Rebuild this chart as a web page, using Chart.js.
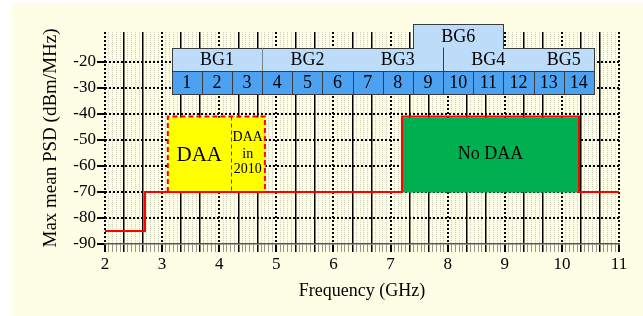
<!DOCTYPE html>
<html>
<head>
<meta charset="utf-8">
<script src="https://cdn.jsdelivr.net/npm/chart.js@4/dist/chart.umd.min.js"></script>
<style>
  html, body { margin: 0; padding: 0; background: #fff; }
  canvas { display: block; }
</style>
</head>
<body>
<canvas id="chart" width="643" height="316"></canvas>
<script>
// spectral mask (GHz, dBm/MHz)
const maskFreq = [2, 2.7, 2.7, 7.2, 7.2, 10.3, 10.3, 11];
const maskPsd = [-85, -85, -70, -70, -41, -41, -70, -70];
const yTicks = [-90, -80, -70, -60, -50, -40, -30, -20];

// UWB bands, 528 MHz wide, starting at 3.168 GHz
const bandNumbers = [1, 2, 3, 4, 5, 6, 7, 8, 9, 10, 11, 12, 13, 14];
const bandStart = 3.168;
const bandWidth = 0.528;
const groupNames = ['BG1', 'BG2', 'BG3', 'BG4', 'BG5', 'BG6'];
const groupFirstBand = [1, 4, 7, 10, 13, 9];
const groupLastBand = [3, 6, 9, 12, 14, 11];

// DAA regions (GHz) and their PSD span
const daaRange = [3.1, 4.8];
const daa2010From = 4.2;
const noDaaRange = [7.2, 10.3];
const regionPsd = [-70, -41];

const FONT = '"Liberation Serif", "Times New Roman", serif';
const lightBlue = 'rgb(189,220,250)';
const midBlue = 'rgb(76,161,240)';
const edge = '#3c3c3c';

const bandLeft = n => bandStart + (n - 1) * bandWidth;
const bandRight = n => bandStart + n * bandWidth;

const background = {
  id: 'background',
  beforeDraw(chart) {
    const { ctx, width, height } = chart;
    ctx.save();
    ctx.fillStyle = '#fff';
    ctx.fillRect(0, 0, width, height);
    ctx.fillStyle = 'rgb(254,253,230)';
    ctx.fillRect(12, 3, width - 12, height - 3);
    ctx.restore();
  }
};

const regions = {
  id: 'regions',
  beforeDatasetsDraw(chart) {
    const { ctx, scales: { x, y } } = chart;
    const px = v => x.getPixelForValue(v);
    const py = v => y.getPixelForValue(v);
    const box = (x0, x1, y0, y1, fill, stroke) => {
      const l = Math.round(px(x0)) + 0.5, r = Math.round(px(x1)) + 0.5;
      const t = Math.round(py(y1)) + 0.5, b = Math.round(py(y0)) + 0.5;
      ctx.fillStyle = fill;
      ctx.fillRect(l, t, r - l, b - t);
      if (stroke) {
        ctx.strokeStyle = stroke;
        ctx.lineWidth = 1;
        ctx.strokeRect(l, t, r - l, b - t);
      }
    };
    ctx.save();
    box(noDaaRange[0], noDaaRange[1], regionPsd[0], regionPsd[1], 'rgb(0,176,80)');
    box(daaRange[0], daaRange[1], regionPsd[0], regionPsd[1], '#ffff00');

    // band group strip + BG6 on top
    const first = bandLeft(1), last = bandRight(bandNumbers.length);
    box(first, last, -23.5, -14.5, lightBlue, edge);
    const g6 = groupNames.indexOf('BG6');
    box(bandLeft(groupFirstBand[g6]), bandRight(groupLastBand[g6]), -14.5, -5.4, lightBlue, edge);
    ctx.fillStyle = lightBlue;
    const l6 = Math.round(px(bandLeft(groupFirstBand[g6]))) + 1;
    const r6 = Math.round(px(bandRight(groupLastBand[g6])));
    ctx.fillRect(l6, Math.round(py(-14.5)) - 1, r6 - l6, 3);
    // dividers between groups in the strip
    ctx.lineWidth = 1;
    ctx.strokeStyle = 'rgb(120,130,140)';
    let xx = Math.round(px(bandRight(3))) + 0.5;
    ctx.beginPath(); ctx.moveTo(xx, py(-14.5)); ctx.lineTo(xx, py(-23.5)); ctx.stroke();
    ctx.strokeStyle = edge;
    xx = Math.round(px(bandRight(9))) + 0.5;
    ctx.beginPath(); ctx.moveTo(xx, py(-14.5)); ctx.lineTo(xx, py(-23.5)); ctx.stroke();

    // band cells
    bandNumbers.forEach(n => box(bandLeft(n), bandRight(n), -32.4, -23.5, midBlue, edge));
    ctx.restore();
  },
  afterDatasetsDraw(chart) {
    const { ctx, scales: { x, y } } = chart;
    const px = v => x.getPixelForValue(v);
    const py = v => y.getPixelForValue(v);
    ctx.save();

    // dashed red outline of the DAA box
    ctx.strokeStyle = 'rgb(255,0,0)';
    ctx.setLineDash([5, 3]);
    ctx.lineWidth = 2;
    const l = px(daaRange[0]), r = px(daaRange[1]), t = py(regionPsd[1]), b = py(regionPsd[0]);
    ctx.beginPath();
    ctx.moveTo(l, b); ctx.lineTo(l, t); ctx.lineTo(r, t); ctx.lineTo(r, b);
    ctx.stroke();
    ctx.lineWidth = 1;
    ctx.setLineDash([4, 3]);
    const d = Math.round(px(daa2010From)) + 0.5;
    ctx.beginPath(); ctx.moveTo(d, t); ctx.lineTo(d, b); ctx.stroke();
    ctx.setLineDash([]);

    ctx.fillStyle = '#000';
    ctx.textAlign = 'center';
    ctx.textBaseline = 'middle';
    const mid = (regionPsd[0] + regionPsd[1]) / 2;

    ctx.font = '21px ' + FONT;
    ctx.fillText('DAA', px((daaRange[0] + daa2010From) / 2), py(mid) + 1);
    ctx.font = '14px ' + FONT;
    const cx = px((daa2010From + daaRange[1]) / 2);
    ctx.fillText('DAA', cx, py(mid) - 17);
    ctx.fillText('in', cx, py(mid));
    ctx.fillText('2010', cx, py(mid) + 15);
    ctx.font = '18px ' + FONT;
    ctx.fillText('No DAA', px((noDaaRange[0] + noDaaRange[1]) / 2), py(mid));

    ctx.font = '18px ' + FONT;
    groupNames.forEach((g, i) => {
      const cxg = px((bandLeft(groupFirstBand[i]) + bandRight(groupLastBand[i])) / 2);
      const cyg = g === 'BG6' ? py((-14.5 - 5.4) / 2) : py((-23.5 - 14.5) / 2);
      ctx.fillText(g, cxg, cyg + 1);
    });
    ctx.font = '18px ' + FONT;
    bandNumbers.forEach(n => {
      ctx.fillText(String(n), px((bandLeft(n) + bandRight(n)) / 2), py((-32.4 - 23.5) / 2) + 1);
    });
    ctx.restore();
  }
};

// x grid: k/30 GHz steps -> integer dotted, 1/3 solid black, fine light lines
const xKind = i => (i % 30 === 0 ? 'major' : i % 10 === 0 ? 'solid' : i % 2 === 0 ? 'fine' : 'none');

new Chart(document.getElementById('chart'), {
  type: 'line',
  data: {
    datasets: [{
      data: maskFreq.map((f, i) => ({ x: f, y: maskPsd[i] })),
      borderColor: 'rgb(255,0,0)',
      borderWidth: 2,
      pointRadius: 0,
      tension: 0,
      fill: false
    }]
  },
  options: {
    responsive: false,
    animation: false,
    layout: { padding: { left: 0, right: 24, top: 32, bottom: 0 } },
    plugins: { legend: { display: false }, tooltip: { enabled: false } },
    scales: {
      x: {
        type: 'linear',
        min: 2,
        max: 11,
        afterBuildTicks: s => {
          const t = [];
          for (let k = 0; k <= 270; k++) t.push({ value: 2 + k / 30 });
          s.ticks = t;
        },
        afterFit: s => { s.height = 72; },
        ticks: {
          autoSkip: false,
          maxRotation: 0,
          padding: 2,
          color: '#000',
          font: { family: FONT, size: 17 },
          callback: (v, i) => (i % 30 === 0 ? String(2 + i / 30) : '')
        },
        grid: {
          tickLength: 8,
          color: c => {
            const k = xKind(c.index);
            return k === 'major' || k === 'solid' ? '#000' : k === 'fine' ? 'rgb(205,205,190)' : 'rgba(0,0,0,0)';
          },
          lineWidth: c => (xKind(c.index) === 'major' ? 2 : xKind(c.index) === 'solid' ? 1.5 : 1),
          tickColor: c => {
            const k = xKind(c.index);
            return k === 'major' || k === 'solid' ? '#000' : k === 'fine' ? 'rgb(150,150,140)' : 'rgba(0,0,0,0)';
          }
        },
        border: {
          display: true,
          color: '#555',
          width: 1.5,
          dash: c => {
            if (!c.tick) return [];
            const k = xKind(c.index);
            return k === 'major' ? [2, 2] : k === 'fine' ? [1, 1] : [];
          }
        },
        title: {
          display: true,
          text: 'Frequency (GHz)',
          color: '#000',
          font: { family: FONT, size: 18 },
          padding: { top: 0, bottom: 14 }
        }
      },
      y: {
        type: 'linear',
        min: -90,
        max: -8.5,
        afterBuildTicks: s => { s.ticks = yTicks.map(v => ({ value: v })); },
        afterFit: s => { s.width = 105; },
        ticks: {
          padding: 1,
          color: '#000',
          font: { family: FONT, size: 17 }
        },
        grid: {
          tickLength: 8,
          color: c => (c.tick && c.tick.value === -90 ? 'rgba(0,0,0,0)' : '#000'),
          lineWidth: 2,
          tickColor: '#000'
        },
        border: { display: false, dash: [2, 2] },
        title: {
          display: true,
          text: 'Max mean PSD (dBm/MHz)',
          color: '#000',
          font: { family: FONT, size: 19 },
          padding: { top: 40, bottom: 0 }
        }
      }
    }
  },
  plugins: [background, regions]
});
</script>
</body>
</html>
